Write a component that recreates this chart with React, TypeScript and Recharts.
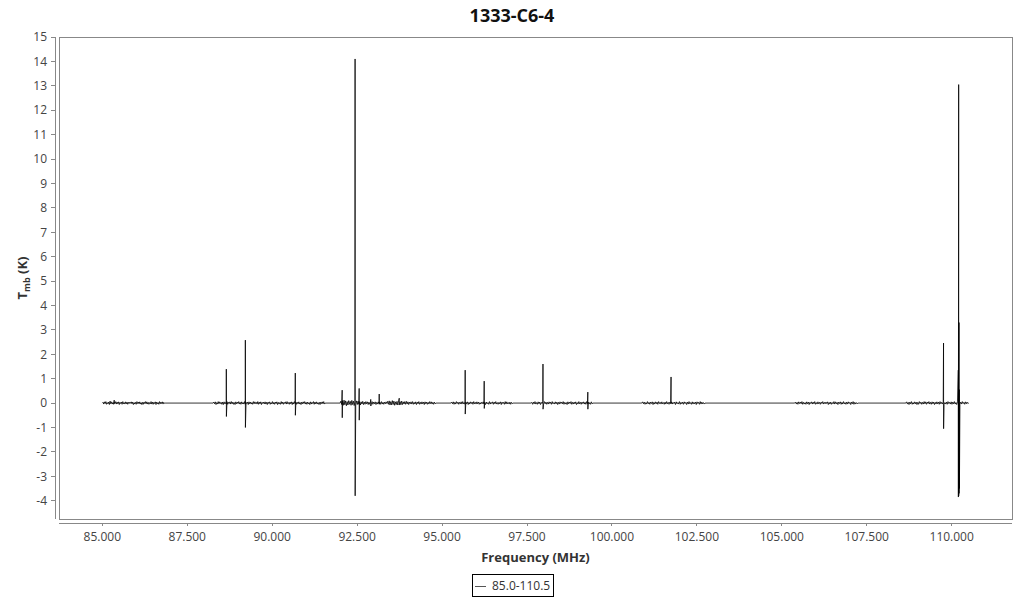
import React from 'react';
import { ComposedChart, Line, XAxis, YAxis, ReferenceArea, Legend } from 'recharts';

const chartTitle = '1333-C6-4';
const seriesName = '85.0-110.5';
const xTicks = [85, 87.5, 90, 92.5, 95, 97.5, 100, 102.5, 105, 107.5, 110];
const yTicks = [-4, -3, -2, -1, 0, 1, 2, 3, 4, 5, 6, 7, 8, 9, 10, 11, 12, 13, 14, 15];
const xDomain = [83.725, 111.775];
const yDomain = [-4.75, 15];

// observed frequency ranges (MHz) of the spectral windows
const segStart = [85.0, 88.26, 92.0, 95.26, 97.62, 100.88, 105.38, 108.65];
const segEnd = [86.85, 91.56, 94.82, 97.09, 99.44, 102.74, 107.24, 110.5];

// baseline noise per window, in units of 0.01 K (signed values, read channel by channel)
const noise1 = '+0+3-4+5-2+6-5+2-3+4-6+8-3+5-4+2-5+3-2+6-4+4-3+5-6+3-2+4-5+6-3+2-4+5-3+4-5+3-2+4-1+5-3+4-6+2-4+3-5+6-2+4-3+5-4+2-6+3-5+4-2+6-3+5-4+3-5+2-3+6-4+4-5+3-2+5-6+4-3+2-5+6-3+4-2+5-4+3-1+0';
const noise2 = '+0+4-3+5-6+2-4+6-3+5-2+3-5+4-6+5-3+2-4+6-5+3-2+5-4+6-3+4-5+2-6+5-3+4-2+6-4+3-5+5-3+2-4+6-5+3-2+4-6+5-3+4-4+2-5+6-3+5-2+3-4+6-5+4-3+5-6+3-2+4-3+5-4+3-6+4-2+5-5+2-3+6-4+3-5+4-2+5-6+3-4+2-5+6-3+4-5+3-2+5-4+6-3+2-5+4-3+5-6+3-4+6-2+4-5+3-3+5-4+2-6+4-3+5-2+6-4+3-5+4-3+2-6+5-4+3-2+6-5+4-3+5-4+2-5+3-6+4-2+5-3+6-4+0';
const noise3 = '+0+8-6+10-9+12-7+9-11+6-8+10-5+7-9+11-6+8-10+5-7+9-6+8-5+6-8+5-4+7-6+4-5+6-3+5-6+4-5+3-4+6-5+4-3+5-6+3-4+5-3+4-5+6-4+3-5+4-3+5-2+7-5+9-8+6-7+10-6+8-9+5-6+7-8+9-5+6-7+8-6+5-4+6-5+7-4+5-6+4-3+5-4+6-5+3-4+5-6+4-3+6-5+3-4+5-3+4-6+5-3+4-5+3-4+6-2+5-4+3-5+4-3+0';
const noise4 = '+0+4-3+5-5+3-4+6-2+4-5+3-3+5-4+6-3+2-5+4-3+5-6+3-4+5-2+4-5+6-3+3-4+5-3+4-5+2-4+3-2+5-4+3-6+4-3+2-5+6-4+3-2+5-5+4-3+6-4+2-5+3-3+5-6+4-2+3-5+6-4+5-3+2-4+4-5+3-2+0';
const noise5 = '+0+3-5+4-3+6-4+2-5+5-3+4-6+3-2+5-4+6-3+4-5+3-4+5-2+4-5+6-3+2-4+5-3+4-6+3-4+5-2+4-3+6-5+3-4+2-6+5-3+4-2+6-5+3-4+4-3+5-6+2-4+6-3+3-5+4-2+5-4+3-5+6-3+4-4+2-5+5-3+0';
const noise6 = '+0+5-3+4-5+2-4+6-3+3-5+4-2+5-6+3-4+5-3+4-5+6-2+3-4+5-3+2-5+4-4+6-3+3-5+4-2+5-4+3-2+4-6+5-3+2-4+6-5+3-3+4-5+5-2+3-6+4-4+6-3+2-5+5-4+3-3+4-6+5-2+3-5+6-4+4-3+2-4+0';
const noise7 = '+0+4-4+3-5+5-2+4-3+6-5+3-4+2-5+5-3+4-6+3-2+5-4+4-3+6-5+2-4+5-3+3-5+4-2+6-4+3-3+4-2+5-6+3-4+4-5+2-3+6-4+5-3+3-6+4-2+5-5+3-4+6-3+2-5+4-4+5-2+3-6+4-3+6-5+3-4+2-3+0';
const noise8 = '+0+5-4+3-6+4-3+6-5+2-4+5-3+4-6+3-5+6-2+4-5+3-4+6-3+5-5+4-2+6-4+3-5+5-3+4-6+3-4+5-3+4-5+6-3+3-4+5-6+2-4+4-5+6-2+3-4+5-5+4-3+6-4+2-6+5-3+3-5+4-4+6-2+3-5+5-3+4-2+0';
const noiseSegs = [noise1, noise2, noise3, noise4, noise5, noise6, noise7, noise8];

// spectral lines: frequency (MHz), peak (K), trough (K)
const spikeFreq = [85.35, 88.65, 89.21, 90.68, 92.06, 92.44, 92.56, 92.9, 93.15, 93.74, 95.68, 96.24, 97.97, 99.29, 101.74, 109.76, 110.195, 110.205, 110.215, 110.225];
const spikeHigh = [0.12, 1.39, 2.58, 1.23, 0.53, 14.1, 0.6, 0.15, 0.37, 0.2, 1.35, 0.9, 1.6, 0.45, 1.07, 2.46, 1.35, 13.05, 3.3, 0.55];
const spikeLow = [-0.02, -0.55, -1.0, -0.5, -0.6, -3.8, -0.7, -0.12, -0.05, -0.08, -0.45, -0.22, -0.25, -0.25, -0.02, -1.05, -3.85, -3.8, -3.7, -3.5];

function parseNoise(s: string): number[] {
  return (s.match(/[+-]\d+/g) || []).map((v) => Number(v) / 100);
}

function buildData() {
  const pts: { f: number; t: number }[] = [];
  noiseSegs.forEach((str, s) => {
    const vals = parseNoise(str);
    const step = (segEnd[s] - segStart[s]) / (vals.length - 1);
    vals.forEach((v, i) => pts.push({ f: segStart[s] + i * step, t: v }));
  });
  spikeFreq.forEach((f, i) => {
    pts.push({ f, t: spikeHigh[i] });
    pts.push({ f: f + 0.002, t: spikeLow[i] });
  });
  pts.sort((a, b) => a.f - b.f);
  return pts;
}

const data = buildData();
const FONT = '"Open Sans", "Noto Sans", sans-serif';
const AXIS = '#888';

function YLabel(props: any) {
  const vb = props.viewBox || { x: 0, y: 37, width: 59, height: 482 };
  const cx = 22;
  const cy = vb.y + vb.height / 2;
  return (
    <text
      x={cx}
      y={cy}
      transform={`rotate(-90 ${cx} ${cy})`}
      textAnchor="middle"
      dominantBaseline="central"
      fontFamily={FONT}
      fontSize={13}
      fontWeight="bold"
      fill="#333"
    >
      T<tspan dy={4} fontSize={9}>mb</tspan>
      <tspan dy={-4}> (K)</tspan>
    </text>
  );
}

function LegendBox(props: any) {
  const p = props.payload && props.payload[0];
  return (
    <div
      style={{
        border: '1px solid #000',
        height: 21,
        width: 80,
        boxSizing: 'content-box',
        display: 'flex',
        alignItems: 'center',
        fontFamily: FONT,
        fontSize: 12,
        color: '#333',
        background: '#fff',
      }}
    >
      <svg width={16} height={10} style={{ display: 'block' }}>
        <line x1={2} x2={13} y1={5.5} y2={5.5} stroke="#555" strokeWidth={1} />
      </svg>
      <span style={{ marginLeft: 3 }}>{p ? p.value : seriesName}</span>
    </div>
  );
}

export default function App() {
  return (
    <div style={{ position: 'absolute', left: 0, top: 0, width: 1024, height: 600, background: '#fff' }}>
      <div
        style={{
          position: 'absolute',
          left: 0,
          top: 3,
          width: 1024,
          textAlign: 'center',
          fontFamily: FONT,
          fontSize: 18,
          fontWeight: 'bold',
          lineHeight: '24px',
          color: '#111',
        }}
      >
        {chartTitle}
      </div>
      <ComposedChart
        width={1024}
        height={600}
        data={data}
        margin={{ top: 37, right: 12, left: 0, bottom: 0 }}
        style={{ position: 'absolute', left: 0, top: 0 }}
      >
        <XAxis
          type="number"
          dataKey="f"
          domain={xDomain}
          ticks={xTicks}
          allowDataOverflow
          height={81}
          tickFormatter={(v: number) => v.toFixed(3)}
          axisLine={{ stroke: AXIS, transform: 'translate(0,4)', shapeRendering: 'crispEdges' }}
          tickLine={{ stroke: AXIS, transform: 'translate(0,4)', shapeRendering: 'crispEdges' }}
          tickSize={3}
          tickMargin={10}
          tick={{ fill: '#444', fontSize: 12, fontFamily: FONT }}
          label={{
            value: 'Frequency (MHz)',
            position: 'insideBottom',
            offset: 38,
            style: { fontFamily: FONT, fontSize: 13, fontWeight: 'bold', fill: '#333' },
          }}
        />
        <YAxis
          type="number"
          domain={yDomain}
          ticks={yTicks}
          allowDataOverflow
          width={59}
          axisLine={{ stroke: AXIS, transform: 'translate(-4,0)', shapeRendering: 'crispEdges' }}
          tickLine={{ stroke: AXIS, transform: 'translate(-4,0)', shapeRendering: 'crispEdges' }}
          tickSize={4}
          tickMargin={8}
          tick={{ fill: '#444', fontSize: 12, fontFamily: FONT }}
          label={<YLabel />}
        />
        <ReferenceArea
          x1={xDomain[0]}
          x2={xDomain[1]}
          y1={yDomain[0]}
          y2={yDomain[1]}
          fill="none"
          fillOpacity={0}
          stroke={AXIS}
          strokeWidth={1}
          shapeRendering="crispEdges"
          ifOverflow="visible"
        />
        <Line
          type="linear"
          dataKey="t"
          name={seriesName}
          stroke="#000"
          strokeWidth={0.8}
          dot={false}
          activeDot={false}
          isAnimationActive={false}
        />
        <Legend
          layout="horizontal"
          verticalAlign="middle"
          align="center"
          content={<LegendBox />}
          wrapperStyle={{ left: 472, top: 574, width: 'auto', height: 'auto' }}
        />
      </ComposedChart>
    </div>
  );
}
